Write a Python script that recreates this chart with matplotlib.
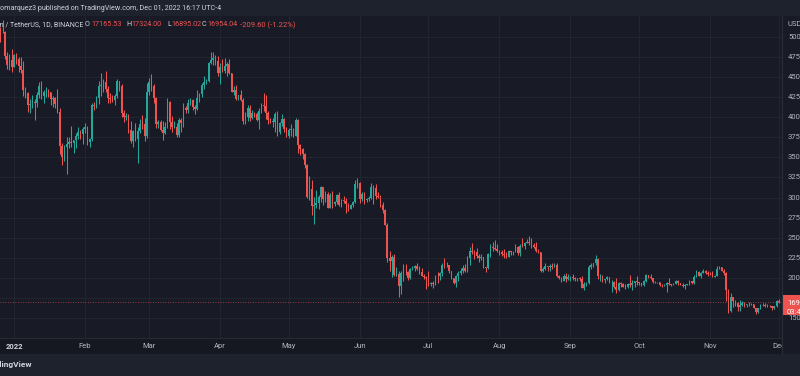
import matplotlib
matplotlib.use('Agg')
import matplotlib.pyplot as plt
import matplotlib.dates as mdates
from matplotlib.patches import Rectangle
import numpy as np
import pandas as pd

plt.rcParams['font.family'] = ['Roboto', 'DejaVu Sans']

# BTC/USDT daily candles, values in thousands of USDT
START = '2021-12-25'
FIRST_OPEN = 50.82

close_k = [
    50.79, 50.65, 50.64, 47.59, 46.47, 47.12, 46.22,  # Dec 2021
    47.72, 47.29, 46.44, 45.83, 43.43, 43.08, 41.55, 41.67, 41.86, 41.82, 42.74, 43.92, 42.59, 43.10, 43.18, 43.11, 42.25, 42.37, 41.66, 40.68, 36.45, 35.07, 36.28, 36.66, 36.96, 36.81, 37.16, 37.72, 38.17, 37.92, 38.48,
    38.74, 36.95, 37.33, 41.57, 41.38, 42.41, 43.84, 44.04, 44.38, 43.57, 42.41, 42.24, 42.20, 42.59, 44.58, 43.94, 40.55, 40.00, 40.12, 38.43, 37.00, 38.26, 37.25, 38.33, 39.22, 39.11, 37.70, 43.19,
    44.42, 43.92, 42.45, 39.15, 39.40, 38.42, 38.06, 38.74, 41.94, 39.44, 38.73, 38.81, 37.79, 39.67, 39.28, 41.12, 40.92, 41.76, 42.20, 41.26, 41.00, 42.36, 42.89, 43.96, 44.35, 44.51, 46.82, 47.13, 47.43, 47.07, 45.51,
    46.28, 45.81, 46.41, 46.58, 45.50, 43.17, 43.44, 42.25, 42.75, 42.16, 39.53, 40.07, 41.15, 39.94, 40.55, 40.38, 39.68, 40.80, 41.50, 41.36, 40.48, 39.70, 39.45, 39.45, 40.43, 38.11, 39.24, 39.74, 38.60, 37.63,
    38.47, 38.53, 37.72, 39.69, 36.55, 36.01, 35.47, 34.04, 30.08, 31.01, 28.94, 29.03, 29.28, 30.08, 31.30, 29.86, 30.42, 28.72, 30.31, 29.20, 29.43, 30.28, 29.10, 29.65, 29.54, 29.20, 28.63, 29.03, 29.47, 31.72, 31.79,
    29.80, 30.45, 29.70, 29.86, 29.91, 31.37, 31.13, 30.20, 30.11, 29.09, 28.42, 26.57, 22.49, 22.13, 22.58, 20.38, 20.45, 19.02, 20.55, 20.72, 20.71, 19.99, 21.11, 21.23, 21.49, 21.04, 20.73, 20.28, 20.10, 19.94,
    19.24, 19.30, 19.23, 20.22, 20.18, 20.55, 21.62, 21.59, 21.59, 20.85, 19.96, 19.33, 20.21, 20.57, 20.83, 21.19, 20.79, 22.43, 23.39, 23.23, 23.16, 22.68, 22.45, 22.58, 21.31, 21.25, 22.95, 23.85, 23.77, 23.64, 23.29,
    23.27, 22.98, 22.82, 22.62, 23.31, 23.17, 23.18, 23.81, 23.15, 23.95, 23.94, 24.40, 24.44, 24.30, 24.10, 23.85, 23.34, 23.19, 20.83, 21.14, 21.52, 21.40, 21.53, 21.37, 21.56, 20.24, 20.04, 19.55, 20.28, 19.81, 20.05,
    20.13, 19.95, 19.83, 19.99, 19.80, 18.79, 19.29, 19.32, 21.36, 21.65, 21.83, 22.40, 20.17, 20.23, 19.70, 19.80, 20.11, 19.42, 19.54, 18.88, 18.48, 19.41, 19.29, 18.92, 18.80, 19.22, 19.08, 19.41, 19.59, 19.42,
    19.31, 19.06, 19.62, 20.34, 20.16, 19.96, 19.53, 19.42, 19.44, 19.13, 19.06, 19.15, 19.38, 19.18, 19.07, 19.26, 19.55, 19.33, 19.12, 19.04, 19.16, 19.20, 19.57, 19.33, 20.09, 20.77, 20.29, 20.60, 20.82, 20.63, 20.49,
    20.48, 20.15, 20.21, 21.15, 21.30, 20.91, 20.59, 18.54, 15.88, 17.60, 17.07, 16.81, 16.33, 16.62, 16.90, 16.66, 16.69, 16.70, 16.70, 16.28, 15.78, 16.23, 16.60, 16.60, 16.52, 16.46, 16.43, 16.22, 16.44, 17.16553,
    16.95404,  # Dec 1
]

high_k = [
    51.20, 51.28, 52.09, 50.70, 48.14, 47.90, 48.55,
    47.94, 47.99, 47.57, 47.51, 47.07, 43.75, 43.15, 42.30, 42.79, 42.25, 43.10, 44.42, 44.46, 43.45, 43.80, 43.48, 43.18, 42.69, 42.57, 43.51, 41.10, 36.84, 36.50, 37.55, 37.55, 38.92, 37.23, 38.00, 38.73, 38.36, 38.74,
    39.27, 38.86, 37.39, 41.77, 41.94, 42.66, 44.50, 45.49, 44.80, 45.82, 43.92, 42.99, 42.74, 42.88, 44.77, 44.58, 44.16, 40.96, 40.48, 40.41, 39.49, 38.45, 39.27, 38.85, 39.73, 40.30, 39.89, 44.24,
    44.95, 45.40, 44.10, 42.50, 39.71, 39.60, 39.54, 39.36, 42.39, 41.98, 40.19, 39.50, 39.30, 39.95, 39.87, 41.72, 41.46, 42.33, 42.40, 42.30, 41.54, 43.36, 43.00, 44.22, 45.09, 44.80, 46.92, 48.19, 48.10, 47.70, 47.60,
    46.72, 47.21, 47.44, 46.89, 47.20, 45.51, 43.92, 43.97, 42.80, 43.41, 42.42, 40.70, 41.56, 41.50, 40.85, 40.71, 40.60, 41.12, 41.76, 42.98, 42.80, 40.80, 39.95, 39.93, 40.62, 40.80, 39.47, 40.37, 39.93, 38.80,
    38.67, 39.17, 38.66, 39.85, 39.79, 36.66, 36.13, 35.51, 34.24, 32.66, 32.16, 30.03, 30.98, 30.33, 31.40, 31.30, 30.79, 30.67, 30.54, 30.78, 29.60, 30.49, 30.67, 29.85, 30.22, 29.90, 29.37, 29.25, 29.59, 32.22, 32.40,
    31.98, 30.68, 30.70, 29.95, 30.18, 31.76, 31.60, 31.67, 30.70, 30.38, 29.44, 28.55, 26.88, 23.36, 22.80, 22.98, 21.35, 20.80, 20.82, 21.72, 21.72, 20.89, 21.20, 21.52, 21.60, 21.87, 21.50, 21.20, 20.45, 20.18,
    20.88, 19.43, 19.65, 20.36, 20.75, 20.68, 21.84, 22.53, 21.95, 21.60, 20.86, 20.04, 20.32, 20.88, 21.20, 21.60, 21.68, 22.78, 23.80, 24.28, 23.44, 23.76, 22.98, 22.96, 22.63, 21.39, 23.10, 24.20, 24.44, 24.67, 24.20,
    23.51, 23.47, 23.65, 23.23, 23.47, 23.40, 23.40, 24.25, 23.92, 24.23, 24.92, 24.45, 24.89, 25.21, 25.00, 24.28, 24.45, 23.60, 23.23, 21.38, 21.80, 21.53, 21.70, 21.90, 21.82, 21.89, 20.33, 20.15, 20.43, 20.58, 20.49,
    20.20, 20.44, 20.06, 20.00, 20.06, 20.18, 19.46, 19.46, 21.60, 21.80, 21.86, 22.80, 22.49, 20.54, 20.33, 19.88, 20.19, 20.11, 19.69, 19.63, 19.96, 19.49, 19.50, 19.32, 19.18, 19.32, 20.37, 19.78, 19.64, 20.18,
    19.48, 19.40, 19.72, 20.47, 20.37, 20.46, 20.04, 19.60, 19.52, 19.53, 19.22, 19.22, 19.50, 19.95, 19.23, 19.35, 19.69, 19.70, 19.35, 19.35, 19.25, 19.26, 19.70, 19.60, 20.41, 21.02, 20.88, 20.75, 21.09, 20.93, 20.84,
    20.70, 20.80, 20.40, 21.47, 21.48, 21.37, 21.07, 20.71, 18.60, 18.14, 17.66, 17.28, 16.93, 17.20, 17.13, 16.99, 16.74, 16.98, 16.81, 16.71, 16.30, 16.29, 16.77, 16.81, 16.81, 16.70, 16.60, 16.48, 16.46, 17.25,
    17.324,
]

low_k = [
    50.20, 49.40, 50.45, 47.31, 46.06, 45.90, 45.68,
    46.21, 46.63, 45.70, 45.50, 42.64, 42.45, 40.60, 40.50, 41.20, 39.65, 41.27, 42.45, 42.31, 41.72, 42.58, 42.58, 41.54, 41.25, 41.14, 40.56, 35.44, 34.01, 34.60, 32.92, 36.23, 36.24, 35.51, 36.16, 37.32, 37.35, 36.63,
    38.00, 36.59, 36.25, 37.05, 40.96, 41.12, 41.64, 42.67, 43.12, 43.19, 41.75, 41.73, 41.85, 41.57, 42.43, 43.31, 40.07, 39.45, 39.64, 38.10, 36.80, 36.35, 37.05, 34.32, 38.01, 38.58, 37.00, 37.45,
    42.80, 43.33, 41.83, 38.65, 38.61, 38.35, 37.15, 37.87, 38.66, 38.54, 38.22, 38.66, 37.58, 37.56, 38.12, 38.85, 40.50, 40.56, 41.56, 40.92, 40.47, 40.86, 41.91, 42.57, 43.58, 44.09, 44.41, 46.60, 46.56, 46.55, 45.20,
    44.20, 45.62, 45.55, 45.12, 45.35, 43.12, 42.73, 42.11, 42.13, 42.00, 39.20, 39.20, 39.55, 39.55, 39.76, 39.99, 39.55, 38.54, 40.57, 40.82, 39.75, 39.18, 39.28, 38.80, 38.20, 37.70, 37.87, 38.88, 38.18, 37.58,
    37.39, 37.67, 37.50, 37.66, 35.57, 35.26, 34.79, 33.71, 30.00, 29.73, 27.78, 26.70, 28.72, 28.63, 29.49, 29.09, 29.45, 28.66, 28.67, 28.73, 28.95, 29.23, 28.90, 28.83, 29.29, 28.02, 28.28, 28.55, 28.82, 29.30, 31.21,
    29.30, 29.57, 29.23, 29.48, 29.51, 29.86, 29.20, 29.84, 29.95, 28.85, 28.10, 26.55, 22.00, 20.80, 20.10, 20.23, 20.23, 17.62, 18.00, 19.60, 20.35, 19.77, 19.90, 20.95, 20.90, 21.00, 20.50, 20.18, 19.85, 18.63,
    18.97, 18.97, 18.76, 19.05, 19.30, 19.76, 20.24, 21.19, 21.32, 20.65, 19.87, 19.24, 18.91, 19.62, 20.39, 20.58, 20.76, 20.76, 21.58, 22.91, 22.34, 22.50, 21.94, 22.24, 21.25, 20.70, 21.04, 22.58, 23.40, 23.50, 23.24,
    22.86, 22.67, 22.43, 22.42, 22.59, 22.85, 22.86, 23.16, 22.86, 22.66, 23.90, 23.60, 24.29, 24.05, 23.77, 23.67, 23.20, 23.12, 20.78, 20.76, 21.00, 20.89, 20.89, 21.13, 21.31, 20.11, 19.80, 19.53, 19.55, 19.54, 19.79,
    19.56, 19.75, 19.66, 19.60, 19.64, 18.68, 18.54, 19.01, 19.28, 21.07, 21.35, 21.55, 19.86, 19.60, 19.50, 19.32, 19.76, 19.34, 18.23, 18.75, 18.13, 18.36, 18.80, 18.82, 18.63, 18.68, 18.82, 18.47, 18.88, 19.16,
    19.16, 19.00, 19.00, 19.52, 19.96, 19.86, 19.32, 19.32, 19.32, 19.02, 18.86, 18.96, 18.19, 19.08, 18.98, 19.07, 19.23, 19.10, 19.06, 18.90, 18.66, 19.14, 19.07, 19.24, 19.23, 20.06, 20.20, 20.00, 20.57, 20.51, 20.25,
    20.33, 20.05, 20.05, 20.18, 21.10, 20.87, 20.39, 17.17, 15.59, 15.75, 16.36, 16.54, 15.82, 15.82, 16.53, 16.42, 16.40, 16.55, 16.57, 16.19, 15.48, 15.68, 16.17, 16.46, 16.35, 16.40, 16.37, 15.98, 16.11, 16.42,
    16.89502,
]

assert len(close_k) == len(high_k) == len(low_k) == 342

month_labels = ['2022', 'Feb', 'Mar', 'Apr', 'May', 'Jun', 'Jul', 'Aug', 'Sep', 'Oct', 'Nov', 'Dec']
price_ticks = list(range(15000, 50001, 2500))
last_price = 16954.04
countdown = '03:42:17'

header_text = 'omarquez3 published on TradingView.com, Dec 01, 2022 16:17 UTC-4'
symbol_text = 'Bitcoin / TetherUS, 1D, BINANCE'
ohlc_keys = ['O', 'H', 'L', 'C']
ohlc_vals = ['17165.53', '17324.00', '16895.02', '16954.04']
change_text = '-209.60 (-1.22%)'

# colours
BG = '#181b26'
BAR_BG = '#1e222d'
GRID = '#232732'
BORDER = '#2a2e39'
TXT = '#b2b5be'
LIGHT = '#d1d4dc'
UP = '#26a69a'
DOWN = '#ef5350'

W, H = 800, 376


def fx(px):
    return px / W


def fy(py):
    return 1 - py / H


fig = plt.figure(figsize=(8, 3.76), dpi=100)
fig.patch.set_facecolor(BG)

# top and bottom bars, time axis band
fig.add_artist(Rectangle((0, fy(16)), 1, 16 / H, transform=fig.transFigure,
                         facecolor=BAR_BG, edgecolor='none', zorder=-1))
fig.add_artist(Rectangle((0, 0), 1, 22 / H, transform=fig.transFigure,
                         facecolor=BAR_BG, edgecolor='none', zorder=-1))
fig.add_artist(Rectangle((0, fy(354)), 1, 16 / H, transform=fig.transFigure,
                         facecolor='#151821', edgecolor='none', zorder=-1))

# main price pane
ax = fig.add_axes([0, fy(338), fx(782), (338 - 16) / H])
ax.set_facecolor(BG)

dates = pd.date_range(START, periods=len(close_k), freq='D')
x = mdates.date2num(dates)
c = np.array(close_k) * 1000
hi = np.array(high_k) * 1000
lo = np.array(low_k) * 1000
# crypto candles open at the previous close
o = np.r_[FIRST_OPEN, close_k[:-1]] * 1000
cols = np.where(c >= o, UP, DOWN)

ax.vlines(x, lo, hi, colors=cols, linewidth=0.75, zorder=3)
ax.bar(x, np.maximum(np.abs(c - o), 40), bottom=np.minimum(o, c), width=0.66,
       color=cols, linewidth=0, zorder=4)

jan1 = mdates.date2num(pd.Timestamp('2022-01-01'))
ax.set_xlim(jan1 - 6.11, jan1 + 335.4)
y_lo, y_hi = 12506, 52616
ax.set_ylim(y_lo, y_hi)

month_starts = mdates.date2num(pd.date_range('2022-01-01', periods=12, freq='MS'))
ax.set_xticks(month_starts)
ax.set_xticklabels(month_labels)
ax.set_yticks(price_ticks)
ax.set_yticklabels([])
ax.tick_params(axis='x', length=0, pad=3.5, labelsize=5.5, colors=TXT)
ax.tick_params(axis='y', length=0)
ax.get_xticklabels()[0].set_fontweight('bold')
ax.get_xticklabels()[0].set_color(LIGHT)
ax.grid(True, color=GRID, linewidth=0.6)
ax.set_axisbelow(True)
for side in ['top', 'left', 'right']:
    ax.spines[side].set_visible(False)
ax.spines['bottom'].set_color(BORDER)
ax.spines['bottom'].set_linewidth(0.6)

ax.axhline(last_price, color=DOWN, linestyle=(0, (1, 2)), linewidth=0.6,
           alpha=0.8, zorder=2)

# price scale column
usd_per_px = (y_hi - y_lo) / 322
pax = fig.add_axes([fx(782), fy(354), fx(18), (354 - 16) / H], zorder=3)
pax.set_facecolor(BG)
pax.set_xlim(0, 18)
pax.set_ylim(y_lo - 16 * usd_per_px, y_hi)
pax.set_xticks([])
pax.set_yticks([])
for side in ['top', 'right', 'bottom']:
    pax.spines[side].set_visible(False)
pax.spines['left'].set_color(BORDER)
pax.spines['left'].set_linewidth(0.8)

tag_top = last_price + 7 * usd_per_px
tag_bottom = last_price - 13 * usd_per_px
for p in price_ticks:
    if tag_bottom < p < tag_top + 4 * usd_per_px:
        continue  # hidden under the last-price tag
    pax.text(6, p, f'{p:.2f}', color=TXT, fontsize=5.5, va='center',
             ha='left', clip_on=False)
pax.text(6, y_hi - 8 * usd_per_px, 'USDT', color=TXT, fontsize=5.5,
         va='center', ha='left', clip_on=False)

pax.add_patch(Rectangle((0, tag_bottom), 30, tag_top - tag_bottom,
                        facecolor=DOWN, edgecolor='none', clip_on=False))
pax.text(5, last_price - 1 * usd_per_px, f'{last_price:.2f}', color='white',
         fontsize=5.5, va='center', ha='left', clip_on=False)
pax.text(5, last_price - 9.5 * usd_per_px, countdown, color='white',
         fontsize=5.5, va='center', ha='left', clip_on=False)

# header and legend texts
fig.text(fx(0), fy(9), header_text, color=LIGHT, fontsize=5.1, va='center')
fig.text(fx(83), fy(25), symbol_text, color=LIGHT, fontsize=5.0,
         va='center', ha='right')
key_x = [85, 126, 167, 202]
val_x = [91, 131, 171, 207]
for k, v, kx, vx in zip(ohlc_keys, ohlc_vals, key_x, val_x):
    fig.text(fx(kx), fy(25), k, color=LIGHT, fontsize=5.2, va='center')
    fig.text(fx(vx), fy(25), v, color=DOWN, fontsize=5.2, va='center')
fig.text(fx(240), fy(25), change_text, color=DOWN, fontsize=5.5, va='center')

fig.text(fx(32), fy(365), 'TradingView', color=LIGHT, fontsize=6,
         fontweight='bold', va='center', ha='right')

fig.savefig('out.png', dpi=100, facecolor=fig.get_facecolor())
